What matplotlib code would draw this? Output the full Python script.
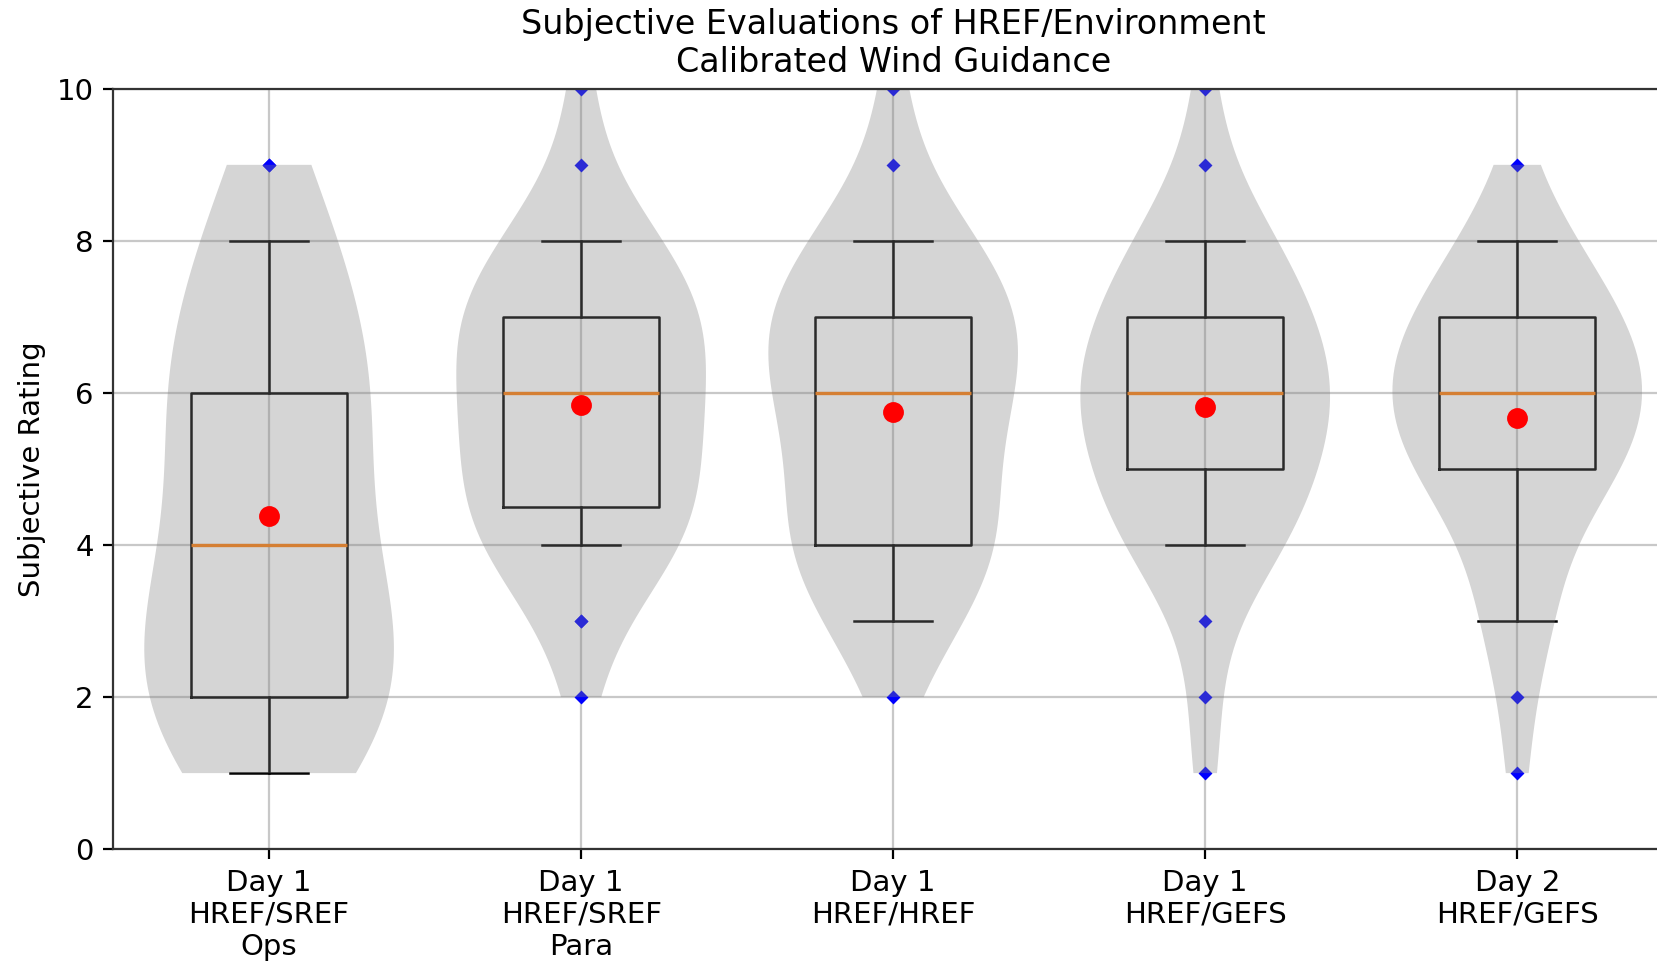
import numpy as np
import matplotlib
matplotlib.use("Agg")
import matplotlib.pyplot as plt

# ---- data (counts of each rating 1..10 per guidance product) ----
rating_values = [1, 2, 3, 4, 5, 6, 7, 8, 9, 10]
counts_ops = [5, 6, 6, 4, 4, 5, 4, 3, 2, 0]
counts_para = [0, 1, 2, 7, 7, 7, 8, 5, 1, 1]
counts_href = [0, 1, 4, 7, 5, 7, 8, 5, 1, 1]
counts_gefs1 = [1, 1, 1, 6, 7, 9, 7, 5, 1, 1]
counts_gefs2 = [1, 1, 3, 3, 8, 10, 8, 4, 1, 0]
tick_labels = ["Day 1\nHREF/SREF\nOps", "Day 1\nHREF/SREF\nPara",
               "Day 1\nHREF/HREF", "Day 1\nHREF/GEFS", "Day 2\nHREF/GEFS"]

all_counts = [counts_ops, counts_para, counts_href, counts_gefs1, counts_gefs2]
data = [np.repeat(rating_values, c).astype(float) for c in all_counts]
positions = np.arange(1, len(data) + 1)
means = [d.mean() for d in data]

fig = plt.figure(figsize=(8.29, 4.805), dpi=200)
ax = fig.add_axes([0.0682, 0.1164, 0.941, 0.7912])

ax.grid(True, color="#c8c8c8", linewidth=0.8, zorder=0)
ax.set_axisbelow(True)

bp = ax.boxplot(data, positions=positions, widths=0.5, whis=(10, 90),
                flierprops=dict(marker="D", markerfacecolor="blue",
                                markeredgecolor="blue", markersize=2.6),
                medianprops=dict(color="#ff7f0e", linewidth=1.2),
                boxprops=dict(color="black", linewidth=0.9),
                whiskerprops=dict(color="black", linewidth=0.9),
                capprops=dict(color="black", linewidth=0.9))

vp = ax.violinplot(data, positions=positions, widths=0.8, showextrema=False)
for body in vp["bodies"]:
    body.set_facecolor("gray")
    body.set_edgecolor("none")
    body.set_alpha(0.33)
    body.set_zorder(2.5)

ax.plot(positions, means, "o", color="red", markersize=6.5, zorder=4)

for s in ax.spines.values():
    s.set_color("#333333")

ax.set_xlim(0.5, 5.5)
ax.set_ylim(0, 10)
ax.set_yticks([0, 2, 4, 6, 8, 10])
ax.set_xticks(positions)
ax.set_xticklabels(tick_labels)
ax.tick_params(labelsize=10.5)
ax.set_ylabel("Subjective Rating", fontsize=10.5)
ax.set_title("Subjective Evaluations of HREF/Environment\nCalibrated Wind Guidance",
             fontsize=12)

fig.savefig("out.png", dpi=200)
